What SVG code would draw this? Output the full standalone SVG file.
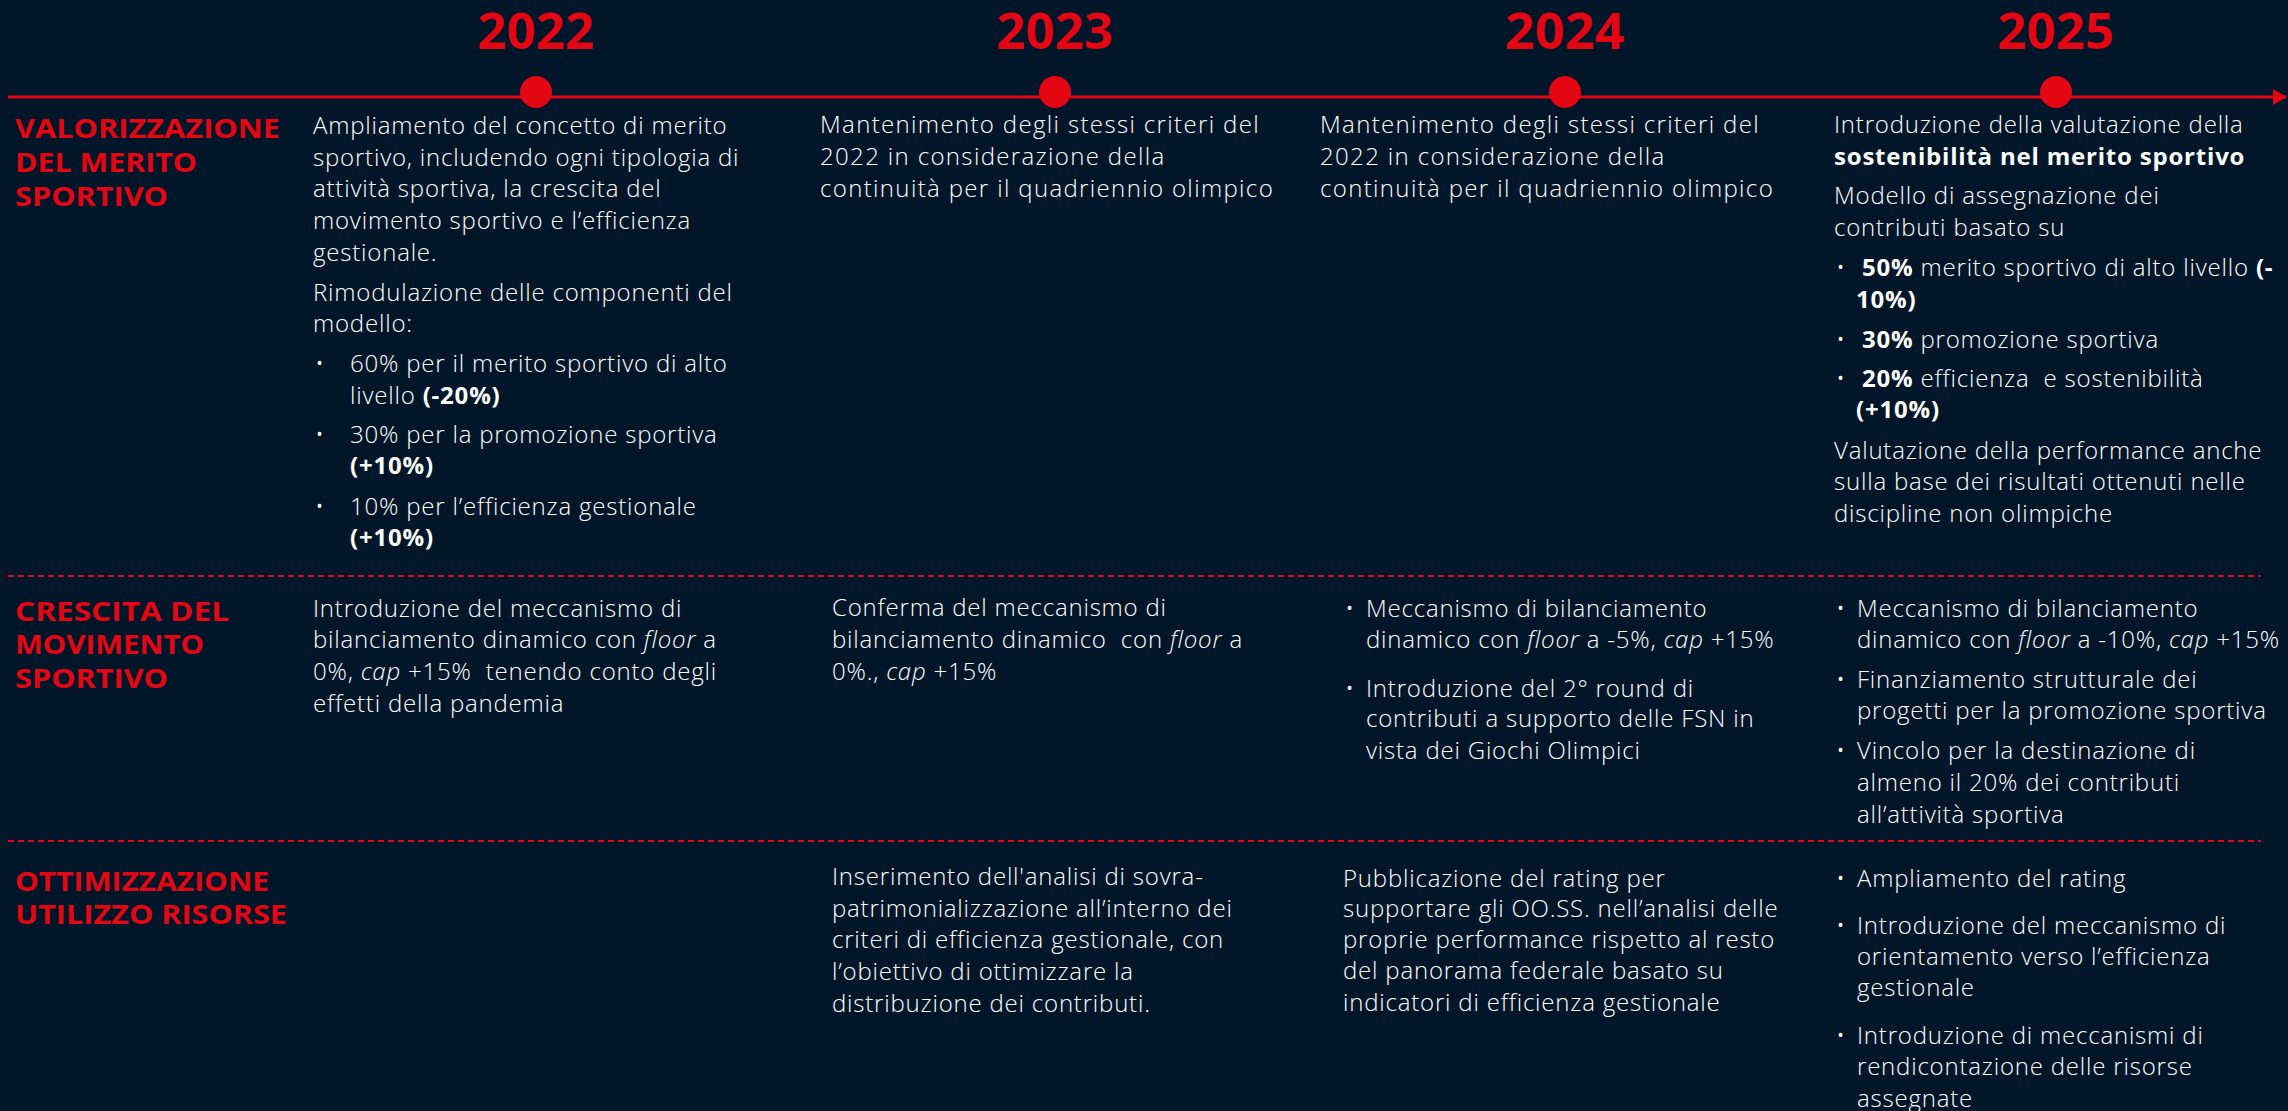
<svg xmlns="http://www.w3.org/2000/svg" width="2288" height="1111" viewBox="0 0 2288 1111">
<style>
.bg{fill:#011629}
.yr{font-family:"Open Sans","Liberation Sans",sans-serif;font-weight:700;font-size:50px;fill:#e30613;text-anchor:middle}
.dot{fill:#e30613}
.hd{font-family:"Open Sans","Liberation Sans",sans-serif;font-weight:700;font-size:27px;fill:#e30613}
.tx{font-family:"Open Sans","Liberation Sans",sans-serif;font-weight:300;font-size:24px;fill:#ffffff;letter-spacing:0.8px;white-space:pre}
.w{letter-spacing:1.35px}
.b{font-weight:700}
.i{font-style:italic}
.tl{stroke:#e30613;stroke-width:3;fill:none}
.dash{stroke:#e30613;stroke-width:2;stroke-dasharray:6 4;fill:none}
</style>
<defs>
<marker id="arr" markerWidth="14" markerHeight="16" refX="13" refY="8" orient="auto" markerUnits="userSpaceOnUse">
<path d="M0,0 L14,8 L0,16 Z" fill="#e30613"/>
</marker>
</defs>
<rect class="bg" x="0" y="0" width="2288" height="1111"/>

<g id="connectors">
<line class="tl" x1="8" y1="97" x2="2286" y2="97" marker-end="url(#arr)"/>
<line class="dash" x1="8" y1="576" x2="2261" y2="576"/>
<line class="dash" x1="8" y1="841" x2="2261" y2="841"/>
</g>

<g id="year-2022"><circle class="dot" cx="536" cy="92" r="16"/><text class="yr" x="536" y="49" textLength="117" lengthAdjust="spacingAndGlyphs">2022</text></g>
<g id="year-2023"><circle class="dot" cx="1055" cy="92" r="16"/><text class="yr" x="1055" y="49" textLength="117" lengthAdjust="spacingAndGlyphs">2023</text></g>
<g id="year-2024"><circle class="dot" cx="1565" cy="92" r="16"/><text class="yr" x="1565" y="49" textLength="120" lengthAdjust="spacingAndGlyphs">2024</text></g>
<g id="year-2025"><circle class="dot" cx="2056" cy="92" r="16"/><text class="yr" x="2056" y="49" textLength="117" lengthAdjust="spacingAndGlyphs">2025</text></g>

<g id="head-merito">
<text class="hd" x="15" y="138" textLength="265" lengthAdjust="spacingAndGlyphs">VALORIZZAZIONE</text>
<text class="hd" x="15" y="172" textLength="182" lengthAdjust="spacingAndGlyphs">DEL MERITO</text>
<text class="hd" x="15" y="206" textLength="153" lengthAdjust="spacingAndGlyphs">SPORTIVO</text>
</g>
<g id="head-crescita">
<text class="hd" x="15" y="621" textLength="214" lengthAdjust="spacingAndGlyphs">CRESCITA DEL</text>
<text class="hd" x="15" y="654" textLength="189" lengthAdjust="spacingAndGlyphs">MOVIMENTO</text>
<text class="hd" x="15" y="688" textLength="153" lengthAdjust="spacingAndGlyphs">SPORTIVO</text>
</g>
<g id="head-ottimizzazione">
<text class="hd" x="15" y="891" textLength="254" lengthAdjust="spacingAndGlyphs">OTTIMIZZAZIONE</text>
<text class="hd" x="15" y="924" textLength="272" lengthAdjust="spacingAndGlyphs">UTILIZZO RISORSE</text>
</g>

<g id="merito-2022">
<text class="tx" x="313" y="134">Ampliamento del concetto di merito</text>
<text class="tx" x="313" y="166">sportivo, includendo ogni tipologia di</text>
<text class="tx" x="313" y="197">attività sportiva, la crescita del</text>
<text class="tx" x="313" y="229">movimento sportivo e l’efficienza</text>
<text class="tx" x="313" y="261">gestionale.</text>
<text class="tx" x="313" y="301">Rimodulazione delle componenti del</text>
<text class="tx" x="313" y="332">modello:</text>
<text class="tx" x="315" y="372">•</text>
<text class="tx" x="350" y="372">60% per il merito sportivo di alto</text>
<text class="tx" x="350" y="404">livello <tspan class="b">(-20%)</tspan></text>
<text class="tx" x="315" y="443">•</text>
<text class="tx" x="350" y="443">30% per la promozione sportiva</text>
<text class="tx b" x="350" y="474">(+10%)</text>
<text class="tx" x="315" y="515">•</text>
<text class="tx" x="350" y="515">10% per l’efficienza gestionale</text>
<text class="tx b" x="350" y="546">(+10%)</text>
</g>

<g id="merito-2023">
<text class="tx w" x="820" y="133">Mantenimento degli stessi criteri del</text>
<text class="tx w" x="820" y="165">2022 in considerazione della</text>
<text class="tx w" x="820" y="197">continuità per il quadriennio olimpico</text>
</g>

<g id="merito-2024">
<text class="tx w" x="1320" y="133">Mantenimento degli stessi criteri del</text>
<text class="tx w" x="1320" y="165">2022 in considerazione della</text>
<text class="tx w" x="1320" y="197">continuità per il quadriennio olimpico</text>
</g>

<g id="merito-2025">
<text class="tx" x="1834" y="133">Introduzione della valutazione della</text>
<text class="tx b" x="1834" y="165">sostenibilità nel merito sportivo</text>
<text class="tx" x="1834" y="204">Modello di assegnazione dei</text>
<text class="tx" x="1834" y="236">contributi basato su</text>
<text class="tx" x="1836" y="276">•</text>
<text class="tx" x="1862" y="276"><tspan class="b">50%</tspan> merito sportivo di alto livello <tspan class="b">(-</tspan></text>
<text class="tx b" x="1856" y="308">10%)</text>
<text class="tx" x="1836" y="348">•</text>
<text class="tx" x="1862" y="348"><tspan class="b">30%</tspan> promozione sportiva</text>
<text class="tx" x="1836" y="387">•</text>
<text class="tx" x="1862" y="387"><tspan class="b">20%</tspan> efficienza  e sostenibilità</text>
<text class="tx b" x="1856" y="418">(+10%)</text>
<text class="tx" x="1834" y="459">Valutazione della performance anche</text>
<text class="tx" x="1834" y="490">sulla base dei risultati ottenuti nelle</text>
<text class="tx" x="1834" y="522">discipline non olimpiche</text>
</g>

<g id="crescita-2022">
<text class="tx" x="313" y="617">Introduzione del meccanismo di</text>
<text class="tx" x="313" y="648">bilanciamento dinamico con <tspan class="i">floor</tspan> a</text>
<text class="tx" x="313" y="680">0%, <tspan class="i">cap</tspan> +15%  tenendo conto degli</text>
<text class="tx" x="313" y="712">effetti della pandemia</text>
</g>

<g id="crescita-2023">
<text class="tx" x="832" y="616">Conferma del meccanismo di</text>
<text class="tx" x="832" y="648">bilanciamento dinamico  con <tspan class="i">floor</tspan> a</text>
<text class="tx" x="832" y="680">0%., <tspan class="i">cap</tspan> +15%</text>
</g>

<g id="crescita-2024">
<text class="tx" x="1345" y="617">•</text>
<text class="tx" x="1366" y="617">Meccanismo di bilanciamento</text>
<text class="tx" x="1366" y="648">dinamico con <tspan class="i">floor</tspan> a -5%, <tspan class="i">cap</tspan> +15%</text>
<text class="tx" x="1345" y="697">•</text>
<text class="tx" x="1366" y="697">Introduzione del 2° round di</text>
<text class="tx" x="1366" y="727">contributi a supporto delle FSN in</text>
<text class="tx" x="1366" y="759">vista dei Giochi Olimpici</text>
</g>

<g id="crescita-2025">
<text class="tx" x="1836" y="617">•</text>
<text class="tx" x="1857" y="617">Meccanismo di bilanciamento</text>
<text class="tx" x="1857" y="648">dinamico con <tspan class="i">floor</tspan> a -10%, <tspan class="i">cap</tspan> +15%</text>
<text class="tx" x="1836" y="688">•</text>
<text class="tx" x="1857" y="688">Finanziamento strutturale dei</text>
<text class="tx" x="1857" y="719">progetti per la promozione sportiva</text>
<text class="tx" x="1836" y="759">•</text>
<text class="tx" x="1857" y="759">Vincolo per la destinazione di</text>
<text class="tx" x="1857" y="791">almeno il 20% dei contributi</text>
<text class="tx" x="1857" y="823">all’attività sportiva</text>
</g>

<g id="ottimizzazione-2023">
<text class="tx" x="832" y="885">Inserimento dell'analisi di sovra-</text>
<text class="tx" x="832" y="917">patrimonializzazione all’interno dei</text>
<text class="tx" x="832" y="948">criteri di efficienza gestionale, con</text>
<text class="tx" x="832" y="980">l’obiettivo di ottimizzare la</text>
<text class="tx" x="832" y="1012">distribuzione dei contributi.</text>
</g>

<g id="ottimizzazione-2024">
<text class="tx" x="1343" y="887">Pubblicazione del rating per</text>
<text class="tx" x="1343" y="917">supportare gli OO.SS. nell’analisi delle</text>
<text class="tx" x="1343" y="948">proprie performance rispetto al resto</text>
<text class="tx" x="1343" y="979">del panorama federale basato su</text>
<text class="tx" x="1343" y="1011">indicatori di efficienza gestionale</text>
</g>

<g id="ottimizzazione-2025">
<text class="tx" x="1836" y="887">•</text>
<text class="tx" x="1857" y="887">Ampliamento del rating</text>
<text class="tx" x="1836" y="934">•</text>
<text class="tx" x="1857" y="934">Introduzione del meccanismo di</text>
<text class="tx" x="1857" y="965">orientamento verso l’efficienza</text>
<text class="tx" x="1857" y="996">gestionale</text>
<text class="tx" x="1836" y="1044">•</text>
<text class="tx" x="1857" y="1044">Introduzione di meccanismi di</text>
<text class="tx" x="1857" y="1075">rendicontazione delle risorse</text>
<text class="tx" x="1857" y="1107">assegnate</text>
</g>
</svg>
